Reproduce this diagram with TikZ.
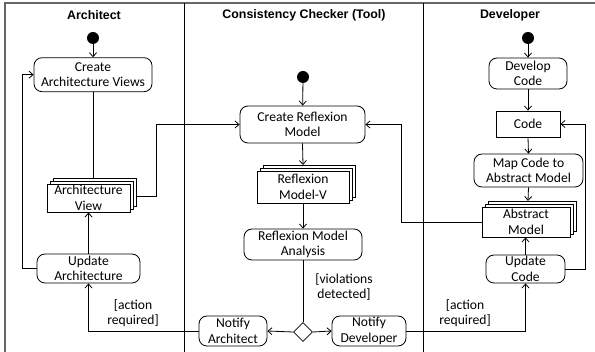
\documentclass[tikz,border=0pt]{standalone}
\usepackage{fontspec}
\setmainfont{Carlito}
\newfontfamily\hdrfont{Liberation Sans}
\usetikzlibrary{arrows.meta,shapes.geometric,shadows}
\tikzset{
  txt/.style={font=\fontsize{13.6}{15.5}\selectfont, align=center, inner sep=0pt},
  action/.style={txt, draw, rounded corners=8pt, line width=0.8pt},
  objbox/.style={txt, draw, fill=white, line width=0.8pt},
  stackbox/.style={objbox, double copy shadow={shadow xshift=3pt, shadow yshift=3pt, fill=white, draw=black}},
  startdot/.style={circle, fill=black, minimum size=12pt, inner sep=0pt},
  decision/.style={diamond, draw, fill=white, minimum width=19pt, minimum height=19pt, inner sep=0pt, line width=0.8pt},
  hdr/.style={font=\hdrfont\bfseries\fontsize{12.4}{14}\selectfont, inner sep=0pt},
  flow/.style={line width=0.8pt, -{Straight Barb[length=4pt,width=7pt]}},
  plain/.style={line width=0.8pt},
  guard/.style={txt},
}
\begin{document}
\begin{tikzpicture}[x=1pt,y=-1pt]
\useasboundingbox (0,0) rectangle (595,352);
% frame
\draw[gray!80!black, line width=1.5pt] (5,352) -- (5,3) -- (595,3);
\draw[line width=0.8pt] (184,3) -- (184,352);
\draw[line width=0.8pt] (423.5,3) -- (423.5,352);
% headers
\node[hdr] (h1) at (94,15) {Architect};
\node[hdr] (h2) at (304,15) {Consistency Checker (Tool)};
\node[hdr] (h3) at (510,15) {Developer};
% Architect lane
\node[startdot] (s1) at (93,38) {};
\node[action, minimum width=118pt, minimum height=34pt] (cav) at (93,74.7) {Create\\Architecture Views};
\node[stackbox, minimum width=83pt, minimum height=28pt] (av) at (88.5,198) {Architecture\\View};
\node[action, minimum width=103pt, minimum height=29pt] (ua) at (88.5,268.5) {Update\\Architecture};
% Tool lane
\node[startdot] (s2) at (303,77) {};
\node[action, minimum width=125pt, minimum height=37pt] (crm) at (302.5,124.5) {Create Reflexion\\Model};
\node[stackbox, minimum width=92pt, minimum height=32pt] (rmv) at (303,187) {Reflexion\\Model-V};
\node[action, minimum width=118pt, minimum height=31pt] (rma) at (303,244.5) {Reflexion Model\\Analysis};
\node[decision] (dec) at (303,332) {};
\node[action, minimum width=68pt, minimum height=30pt] (na) at (233,331) {Notify\\Architect};
\node[action, minimum width=74pt, minimum height=30pt] (nd) at (369,331) {Notify\\Developer};
% Developer lane
\node[startdot] (s3) at (528,38) {};
\node[action, minimum width=78pt, minimum height=31pt] (dc) at (528,73.5) {Develop\\Code};
\node[objbox, minimum width=64pt, minimum height=26pt] (code) at (528,124) {Code};
\node[action, minimum width=109pt, minimum height=33pt] (mcam) at (528.5,170.5) {Map Code to\\Abstract Model};
\node[stackbox, minimum width=88pt, minimum height=30pt] (am) at (526,222) {Abstract\\Model};
\node[action, minimum width=79pt, minimum height=28pt] (uc) at (525.5,269) {Update\\Code};
% helper coordinates
\coordinate (avtop) at (93,178);
\coordinate (avright) at (136,196);
\coordinate (rmvtop) at (303,165);
\coordinate (amtop) at (528,201);
% connectors: Architect
\draw[flow] (s1) -- (cav);
\draw[plain] (cav.south) -- (avtop);
\draw[flow] (avright) -- (156,196) |- (crm.west);
\draw[flow] (ua.north) -- (av.south);
\draw[flow] (ua.west) -- (22,268.5) |- (cav.west);
\draw[flow] (na.west) -| (ua.south);
% connectors: Tool
\draw[flow] (s2) -- (crm);
\draw[flow] (crm.south) -- (rmvtop);
\draw[flow] (rmv.south) -- (rma.north);
\draw[plain] (rma.south) -- (dec.north);
\draw[flow] (dec.west) -- (na.east);
\draw[flow] (dec.east) -- (nd.west);
\draw[flow] (nd.east) -| (uc.south);
% connectors: Developer
\draw[flow] (s3) -- (dc);
\draw[flow] (dc.south) -- (code.north);
\draw[flow] (code.south) -- (mcam.north);
\draw[flow] (mcam.south) -- (amtop);
\draw[flow] (uc.north) -- (uc.north |- am.south);
\draw[flow] (uc.east) -- (585,269) |- (code.east);
\draw[flow] (am.west) -- (401,222) |- (crm.east);
% guards
\node[guard] (g1) at (133,313) {[action\\required]};
\node[guard] (g2) at (344,287) {[violations\\detected]};
\node[guard] (g3) at (465,313) {[action\\required]};
\end{tikzpicture}
\end{document}
